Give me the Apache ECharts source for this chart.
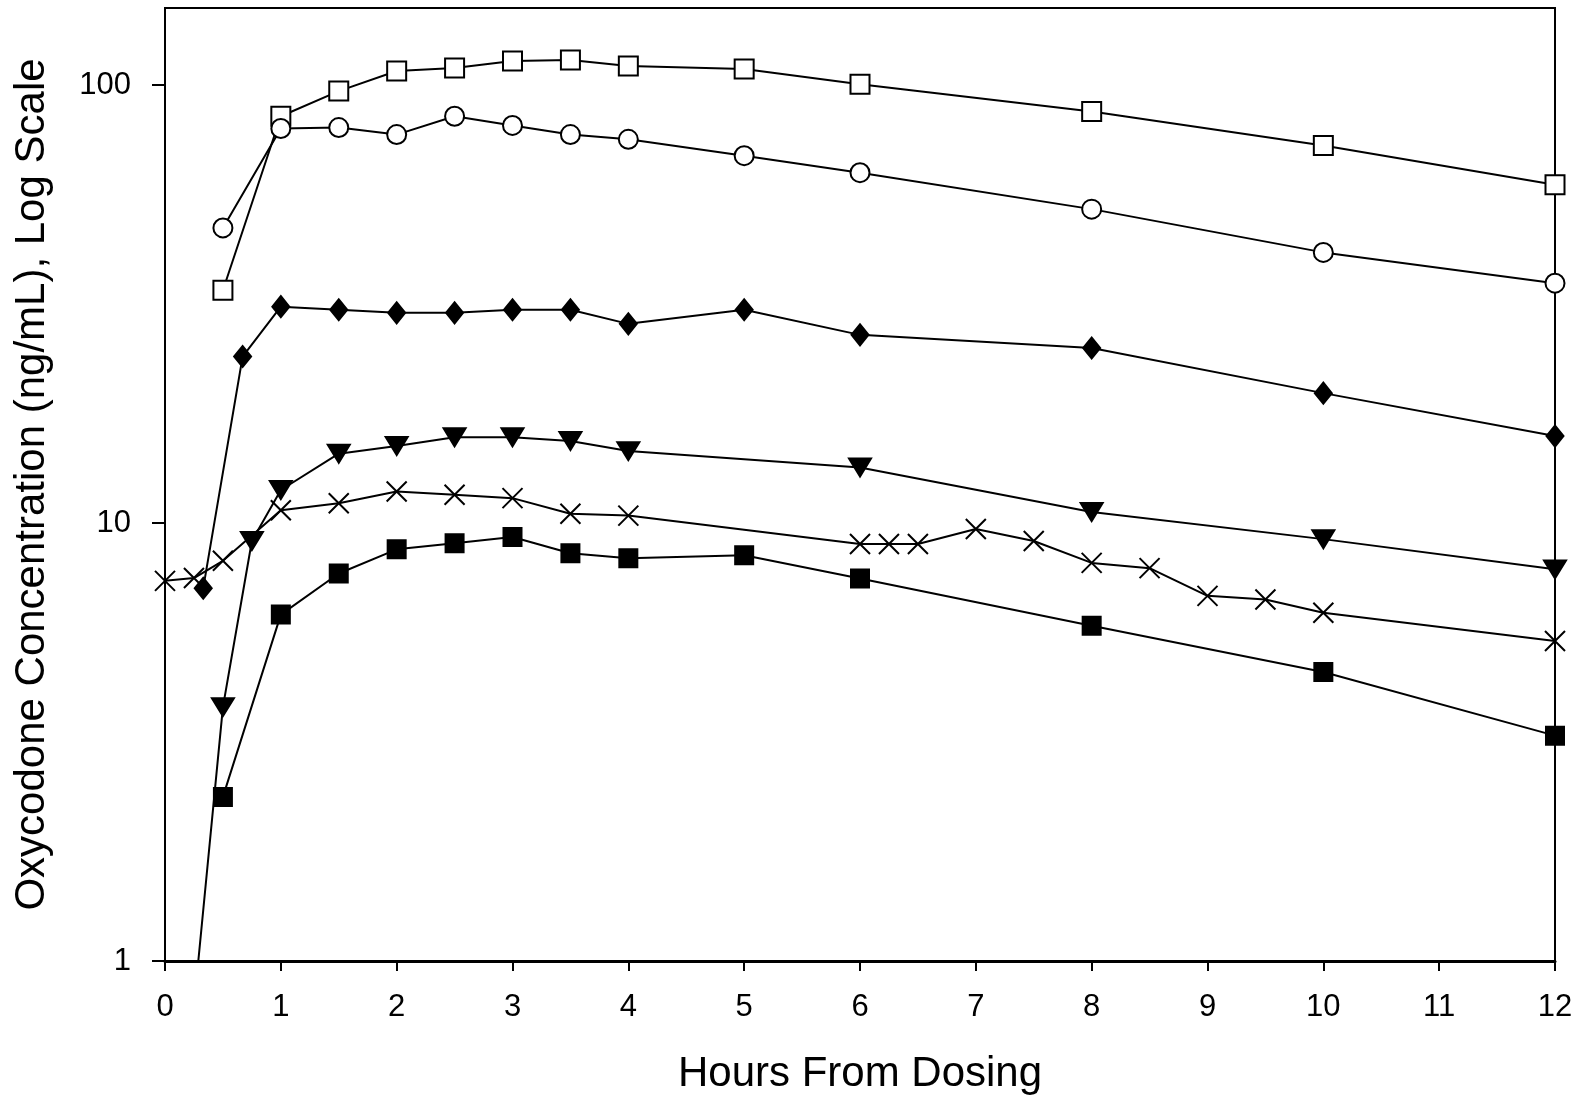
<!DOCTYPE html>
<html>
<head>
<meta charset="utf-8">
<script src="https://cdn.jsdelivr.net/npm/echarts@6/dist/echarts.min.js"></script>
<style>
  html, body { margin: 0; padding: 0; background: #fff; }
  #chart { width: 1583px; height: 1099px; }
</style>
</head>
<body>
<div id="chart"></div>
<script>
// hours from dosing / concentration (ng/mL)
var openSquareT = [0.5, 1, 1.5, 2, 2.5, 3, 3.5, 4, 5, 6, 8, 10, 12]
var openSquareV = [34.0, 84.9, 96.9, 107.7, 109.4, 113.5, 114.1, 110.6, 108.9, 100.5, 87.1, 72.8, 59.2]

var openCircleT = [0.5, 1, 1.5, 2, 2.5, 3, 3.5, 4, 5, 6, 8, 10, 12]
var openCircleV = [47.2, 79.6, 80.0, 77.1, 84.9, 80.9, 77.1, 75.2, 69.0, 63.1, 52.1, 41.5, 35.3]

var diamondT = [0.33, 0.67, 1, 1.5, 2, 2.5, 3, 3.5, 4, 5, 6, 8, 10, 12]
var diamondV = [7.1, 24.0, 31.2, 30.7, 30.2, 30.2, 30.7, 30.7, 28.5, 30.7, 26.9, 25.1, 19.8, 15.8]

var triangleT = [0.25, 0.5, 0.75, 1, 1.5, 2, 2.5, 3, 3.5, 4, 6, 8, 10, 12]
var triangleV = [0.79, 3.80, 9.1, 11.9, 14.4, 15.0, 15.7, 15.7, 15.4, 14.6, 13.4, 10.6, 9.19, 7.84]

var crossT = [0, 0.25, 0.5, 1, 1.5, 2, 2.5, 3, 3.5, 4, 6, 6.25, 6.5, 7, 7.5, 8, 8.5, 9, 9.5, 10, 12]
var crossV = [7.38, 7.49, 8.2, 10.7, 11.1, 11.8, 11.6, 11.4, 10.5, 10.4, 8.96, 8.96, 8.96, 9.69, 9.10, 8.11, 7.89, 6.82, 6.69, 6.24, 5.38]

var filledSquareT = [0.5, 1, 1.5, 2, 2.5, 3, 3.5, 4, 5, 6, 8, 10, 12]
var filledSquareV = [2.37, 6.18, 7.67, 8.71, 8.99, 9.29, 8.53, 8.31, 8.44, 7.47, 5.83, 4.57, 3.27]

var yTickValues = [1, 10, 100]

var FONT = '"Liberation Sans", Arial, sans-serif'

function pairs (t, v) {
  return t.map(function (x, i) { return [x, v[i]] })
}

function line (t, v, symbol, size, fill, extra) {
  var s = {
    type: 'line',
    data: pairs(t, v),
    symbol: symbol,
    symbolSize: size,
    showAllSymbol: true,
    lineStyle: { color: '#000', width: 2 },
    itemStyle: { color: fill, borderColor: '#000', borderWidth: 2 },
    emphasis: { disabled: true },
    animation: false
  }
  return Object.assign(s, extra || {})
}

var chart = echarts.init(document.getElementById('chart'))
var option = {
  backgroundColor: '#fff',
  grid: {
    left: 165, right: 28, top: 8, bottom: 138,
    outerBoundsMode: 'none',
    show: true, borderColor: '#000', borderWidth: 2
  },
  xAxis: {
    type: 'value',
    min: 0, max: 12, interval: 1,
    name: 'Hours From Dosing',
    nameLocation: 'middle',
    nameGap: 92,
    nameTextStyle: { fontFamily: FONT, fontSize: 42, color: '#000' },
    axisLine: { lineStyle: { color: '#000', width: 3 } },
    axisTick: { inside: false, length: 10, lineStyle: { color: '#000', width: 2 } },
    axisLabel: { fontFamily: FONT, fontSize: 31, color: '#000', margin: 31 },
    splitLine: { show: false }
  },
  yAxis: {
    type: 'log',
    logBase: 10,
    min: 1, max: 150,
    name: 'Oxycodone Concentration (ng/mL), Log Scale',
    nameLocation: 'middle',
    nameGap: 112,
    nameTextStyle: { fontFamily: FONT, fontSize: 42, color: '#000' },
    axisLine: { show: true, lineStyle: { color: '#000', width: 2 } },
    axisTick: { show: true, length: 13, lineStyle: { color: '#000', width: 2 }, customValues: yTickValues },
    axisLabel: { fontFamily: FONT, fontSize: 31, color: '#000', margin: 34, customValues: yTickValues },
    splitLine: { show: false },
    minorTick: { show: false }
  },
  series: [
    line(openSquareT, openSquareV, 'rect', 19, '#fff'),
    line(openCircleT, openCircleV, 'circle', 19, '#fff'),
    line(diamondT, diamondV, 'diamond', [17, 21], '#000'),
    line(triangleT, triangleV, 'triangle', [22, 18], '#000', { symbolRotate: 180 }),
    line(crossT, crossV, 'path://M0,0L20,20M20,0L0,20', 20, 'none'),
    line(filledSquareT, filledSquareV, 'rect', 18, '#000')
  ]
}
chart.setOption(option)
</script>
</body>
</html>
